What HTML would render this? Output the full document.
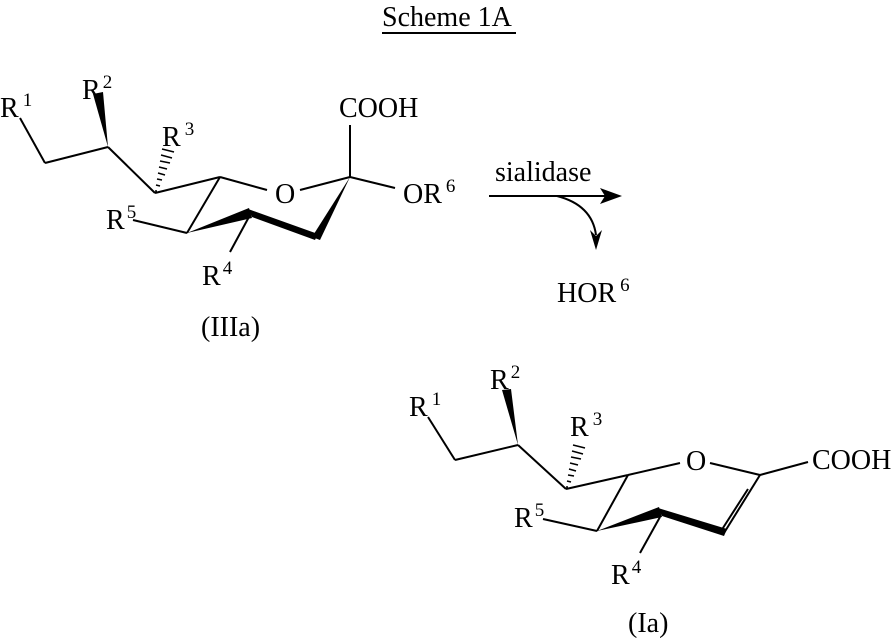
<!DOCTYPE html>
<html><head><meta charset="utf-8"><style>
html,body{margin:0;padding:0;background:#fff;}
svg text{font-family:"Liberation Serif",serif;font-size:28px;fill:#000;}
.s{font-size:19px;}
</style></head><body>
<svg width="896" height="638" viewBox="0 0 896 638" xmlns="http://www.w3.org/2000/svg">
<g stroke="#000" stroke-width="2" fill="none">
<line x1="382" y1="33" x2="516" y2="33"/>
<!-- top molecule -->
<line x1="20" y1="118" x2="45" y2="163"/>
<line x1="45" y1="163" x2="108" y2="147"/>
<line x1="108" y1="147" x2="155" y2="193"/>
<line x1="155" y1="193" x2="220" y2="177"/>
<line x1="220" y1="177" x2="267" y2="190"/>
<line x1="300" y1="190" x2="350" y2="177"/>
<line x1="350" y1="177" x2="350" y2="125"/>
<line x1="350" y1="177" x2="395" y2="188"/>
<line x1="220" y1="177" x2="187" y2="233"/>
<line x1="133" y1="220" x2="187" y2="233"/>
<line x1="250" y1="215" x2="230" y2="252"/>
<!-- bottom molecule -->
<line x1="428" y1="417" x2="455" y2="460"/>
<line x1="455" y1="460" x2="518" y2="445"/>
<line x1="518" y1="445" x2="566" y2="489"/>
<line x1="566" y1="489" x2="628" y2="475"/>
<line x1="628" y1="475" x2="680" y2="463"/>
<line x1="710" y1="463" x2="760" y2="475"/>
<line x1="760" y1="475" x2="808" y2="462"/>
<line x1="760" y1="475" x2="724" y2="533"/>
<line x1="748" y1="489" x2="721" y2="531"/>
<line x1="628" y1="475" x2="597" y2="531"/>
<line x1="543" y1="519" x2="597" y2="531"/>
<line x1="660" y1="517" x2="640" y2="553"/>
<!-- arrow -->
<line x1="489" y1="196" x2="605" y2="196"/>
<path d="M557 196 Q592 205 596 235"/>
</g>
<g fill="#000">
<polygon points="108,147 93,94 103,92"/>
<polygon points="350,177 312,237 320,240"/>
<polygon points="248,209 252,217 315,240 318,234"/>
<polygon points="187,233 249,208 252,218"/>
<polygon points="518,445 502,390 511,389"/>
<polygon points="658,508 662,516 724,536 727,529"/>
<polygon points="597,531 659,507 662,517"/>
<polygon points="622,196 600,188 605,196 600,204"/>
<polygon points="596,250 590,230 596,236 602,230"/>
</g>
<g stroke="#000" stroke-width="1.5">
<line x1="155" y1="191" x2="157" y2="191"/>
<line x1="156" y1="185" x2="160" y2="186"/>
<line x1="157" y1="179" x2="162" y2="180"/>
<line x1="158" y1="173" x2="165" y2="175"/>
<line x1="159" y1="167" x2="167" y2="169"/>
<line x1="160" y1="161" x2="170" y2="163"/>
<line x1="161" y1="155" x2="172" y2="158"/>
<line x1="162" y1="149" x2="174" y2="152"/>
<line x1="566" y1="487" x2="568" y2="487"/>
<line x1="567" y1="481" x2="571" y2="482"/>
<line x1="568" y1="475" x2="574" y2="476"/>
<line x1="569" y1="469" x2="576" y2="471"/>
<line x1="570" y1="463" x2="578" y2="465"/>
<line x1="571" y1="457" x2="581" y2="459"/>
<line x1="572" y1="451" x2="583" y2="454"/>
<line x1="573" y1="445" x2="585" y2="448"/>
</g>
<text x="382" y="26">Scheme 1A</text>
<text x="0" y="117">R<tspan class="s" dx="4" dy="-11">1</tspan></text>
<text x="82" y="99">R<tspan class="s" dx="2" dy="-11">2</tspan></text>
<text x="162" y="146">R<tspan class="s" dx="4" dy="-11">3</tspan></text>
<text x="106" y="229">R<tspan class="s" dx="2" dy="-11">5</tspan></text>
<text x="202" y="285">R<tspan class="s" dx="2" dy="-11">4</tspan></text>
<text x="275" y="203">O</text>
<text x="339" y="117">COOH</text>
<text x="403" y="203">OR<tspan class="s" dx="4" dy="-11">6</tspan></text>
<text x="201" y="336">(IIIa)</text>
<text x="495" y="181">sialidase</text>
<text x="557" y="302">HOR<tspan class="s" dx="4" dy="-11">6</tspan></text>
<text x="409" y="416">R<tspan class="s" dx="4" dy="-11">1</tspan></text>
<text x="490" y="389">R<tspan class="s" dx="2" dy="-11">2</tspan></text>
<text x="570" y="436">R<tspan class="s" dx="4" dy="-11">3</tspan></text>
<text x="514" y="527">R<tspan class="s" dx="2" dy="-11">5</tspan></text>
<text x="611" y="584">R<tspan class="s" dx="2" dy="-11">4</tspan></text>
<text x="686" y="470">O</text>
<text x="812" y="469">COOH</text>
<text x="628" y="632">(Ia)</text>
</svg>
</body></html>
